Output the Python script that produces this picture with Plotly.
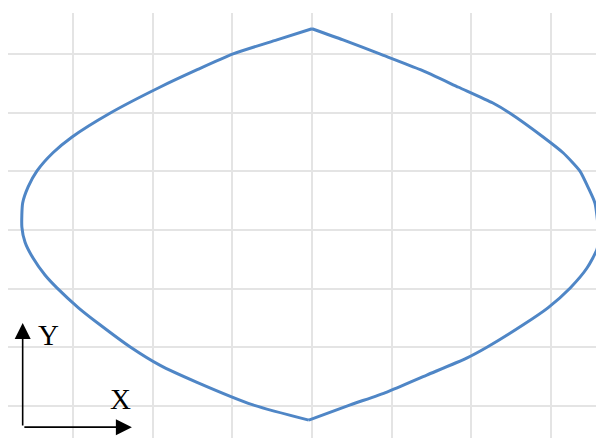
import plotly.graph_objects as go

# left arc, top cusp -> bottom cusp (grid units)
left_x = [0.00, -0.44, -0.99, -1.44, -1.91, -2.53, -3.01, -3.25, -3.45, -3.56, -3.63, -3.64,
          -3.60, -3.50, -3.35, -3.20, -2.93, -2.66, -2.28, -1.91, -1.45, -0.74, -0.04]
left_y = [3.44, 3.25, 3.01, 2.74, 2.44, 2.00, 1.59, 1.32, 1.01, 0.74, 0.46, 0.05,
          -0.21, -0.48, -0.77, -0.99, -1.33, -1.62, -2.00, -2.31, -2.60, -2.99, -3.25]

# right arc, bottom cusp -> top cusp
right_x = [-0.04, 0.48, 0.94, 1.44, 1.94, 2.20, 2.65, 2.96, 3.24, 3.45, 3.58, 3.59,
           3.55, 3.46, 3.36, 3.15, 2.90, 2.48, 2.27, 1.84, 1.36, 0.85, 0.39, 0.00]
right_y = [-3.25, -2.99, -2.77, -2.48, -2.19, -2.00, -1.62, -1.33, -0.99, -0.65, -0.31, 0.03,
           0.46, 0.74, 1.01, 1.32, 1.59, 2.00, 2.17, 2.44, 2.74, 3.01, 3.25, 3.44]

fig = go.Figure()
for xs, ys in [(left_x, left_y), (right_x, right_y)]:
    fig.add_trace(go.Scatter(x=xs, y=ys, mode="lines",
                             line=dict(color="#4f86c6", width=3, shape="spline", smoothing=0.6),
                             hoverinfo="skip"))

# axis direction arrows in the bottom-left corner
fig.add_annotation(x=-3.63, y=-1.59, xref="x", yref="y", ax=0, ay=104,
                   axref="pixel", ayref="pixel", showarrow=True, arrowhead=2,
                   arrowsize=2, arrowwidth=1.6, arrowcolor="black", text="")
fig.add_annotation(x=-2.26, y=-3.37, xref="x", yref="y", ax=-109, ay=0,
                   axref="pixel", ayref="pixel", showarrow=True, arrowhead=2,
                   arrowsize=2, arrowwidth=1.6, arrowcolor="black", text="")
fig.add_annotation(x=-3.30, y=-1.80, xref="x", yref="y", text="Y", showarrow=False,
                   font=dict(family="Liberation Serif", size=29, color="black"))
fig.add_annotation(x=-2.40, y=-2.89, xref="x", yref="y", text="X", showarrow=False,
                   font=dict(family="Liberation Serif", size=29, color="black"))

axis_style = dict(showticklabels=False, zeroline=False, showline=False,
                  showgrid=True, gridcolor="#e4e4e4", gridwidth=1.5,
                  tick0=0, dtick=1, ticks="")
fig.update_xaxes(range=[-3.814, 3.764], **axis_style)
fig.update_yaxes(range=[-3.692, 3.709], **axis_style)

fig.update_layout(
    width=604, height=438,
    margin=dict(l=0, r=0, t=5, b=0),
    paper_bgcolor="white", plot_bgcolor="white",
    showlegend=False,
)

fig.write_html("out.html")
